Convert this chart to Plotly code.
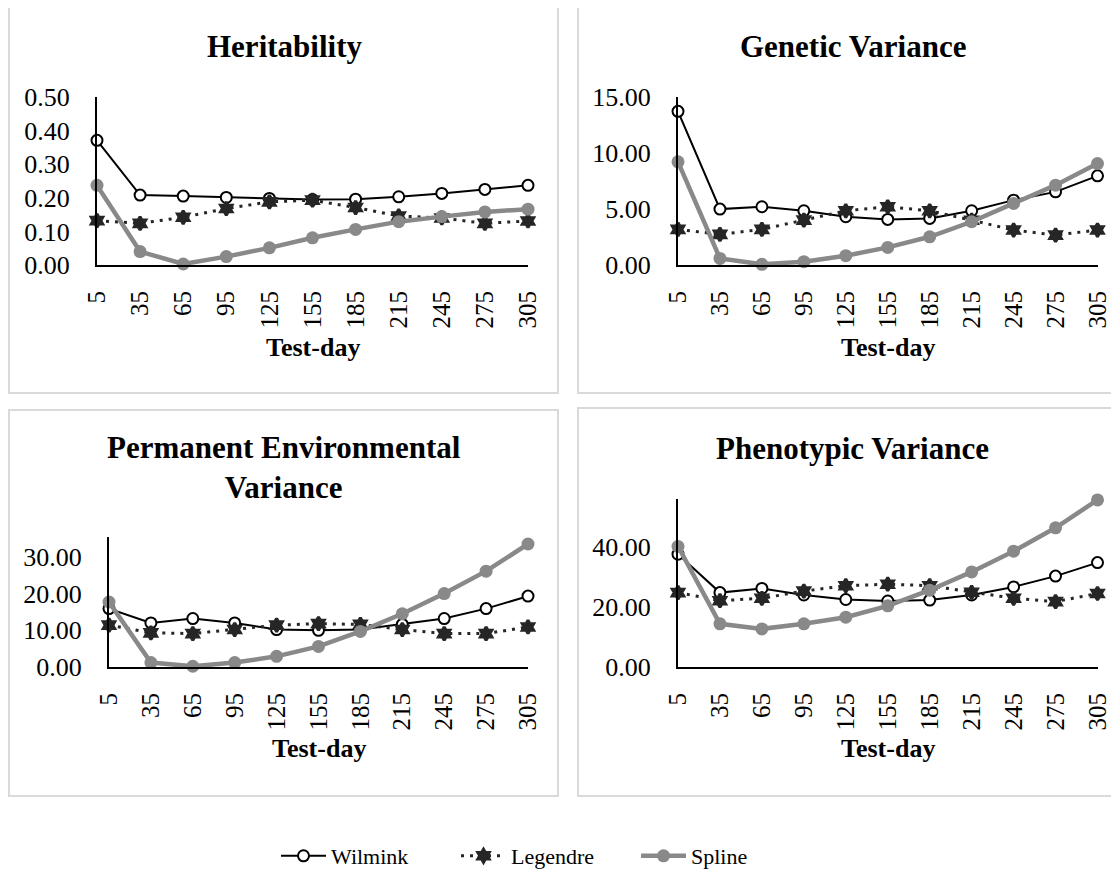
import plotly.graph_objects as go

# ---------------- data ----------------
days = [5, 35, 65, 95, 125, 155, 185, 215, 245, 275, 305]
series_names = ["Wilmink", "Legendre", "Spline"]

h2_wilmink = [0.371, 0.208, 0.205, 0.201, 0.198, 0.195, 0.196, 0.203, 0.213, 0.225, 0.237]
h2_legendre = [0.132, 0.124, 0.142, 0.168, 0.188, 0.193, 0.171, 0.146, 0.140, 0.124, 0.131]
h2_spline = [0.237, 0.040, 0.003, 0.025, 0.051, 0.081, 0.106, 0.129, 0.144, 0.158, 0.166]

gv_wilmink = [13.72, 4.99, 5.20, 4.84, 4.31, 4.07, 4.16, 4.84, 5.79, 6.53, 7.96]
gv_legendre = [3.18, 2.73, 3.18, 4.01, 4.84, 5.20, 4.84, 4.00, 3.12, 2.67, 3.12]
gv_spline = [9.21, 0.59, 0.06, 0.30, 0.83, 1.57, 2.52, 3.86, 5.50, 7.13, 9.06]

pe_wilmink = [15.9, 12.0, 13.2, 12.0, 10.2, 10.0, 10.2, 11.6, 13.2, 15.9, 19.3]
pe_legendre = [11.4, 9.3, 9.1, 10.2, 11.4, 11.8, 11.6, 10.2, 9.1, 9.1, 10.9]
pe_spline = [17.7, 1.2, 0.2, 1.2, 2.9, 5.6, 9.7, 14.5, 20.0, 26.1, 33.5]

pv_wilmink = [37.6, 24.8, 26.2, 24.0, 22.5, 22.0, 22.3, 24.0, 26.7, 30.3, 34.8]
pv_legendre = [24.8, 22.1, 22.9, 25.3, 27.1, 27.6, 27.1, 24.9, 22.9, 21.8, 24.5]
pv_spline = [40.2, 14.4, 12.7, 14.4, 16.6, 20.4, 25.6, 31.7, 38.6, 46.4, 55.7]

panel_titles = ["Heritability", "Genetic Variance",
                "Permanent Environmental<br>Variance", "Phenotypic Variance"]
x_title = "Test-day"

# ---------------- layout helpers ----------------
W, H = 1119, 872
OFF = 8  # page body margin
FONT = "Liberation Serif"


def px(x):
    return (x - OFF) / W


def py(y):
    return 1 - (y - OFF) / H


panels = [
    dict(data=(h2_wilmink, h2_legendre, h2_spline), xd=(97, 528), yd=(97, 265),
         rng=[0, 0.5], dtick=0.1, box=(9, 6, 558, 393), tx=284, ty=47, axy=347),
    dict(data=(gv_wilmink, gv_legendre, gv_spline), xd=(678, 1097.5), yd=(97, 265),
         rng=[0, 15], dtick=5, box=(578, 6, 1135, 393), tx=853, ty=47, axy=347),
    dict(data=(pe_wilmink, pe_legendre, pe_spline), xd=(109, 528), yd=(537, 667),
         rng=[0, 35.4], dtick=10, box=(9, 410, 558, 796), tx=284, ty=468, axy=748),
    dict(data=(pv_wilmink, pv_legendre, pv_spline), xd=(678, 1097.5), yd=(499, 667),
         rng=[0, 56], dtick=20, box=(578, 408, 1135, 796), tx=852, ty=448, axy=748),
]

styles = [
    dict(mode="lines+markers", line=dict(color="black", width=2),
         marker=dict(symbol="circle", size=11, color="white",
                     line=dict(color="black", width=2))),
    dict(mode="lines+markers", line=dict(color="#262626", width=3, dash="3px,6px"),
         marker=dict(symbol="hexagram", size=10, color="#262626",
                     line=dict(color="#262626", width=3))),
    dict(mode="lines+markers", line=dict(color="#898989", width=4.5),
         marker=dict(symbol="circle", size=13, color="#898989")),
]

fig = go.Figure()
layout = dict(
    template="none",
    width=W, height=H, autosize=False,
    margin=dict(l=0, r=0, t=0, b=0, pad=0),
    paper_bgcolor="white", plot_bgcolor="white",
    font=dict(family=FONT, color="black"),
    showlegend=True,
    legend=dict(orientation="h", x=px(276), xanchor="left", y=py(856), yanchor="middle",
                font=dict(family=FONT, size=22, color="black"),
                itemwidth=45, entrywidth=120, bgcolor="rgba(0,0,0,0)"),
    shapes=[], annotations=[],
)

for i, p in enumerate(panels):
    n = i + 1
    xa = "x" if n == 1 else f"x{n}"
    ya = "y" if n == 1 else f"y{n}"
    for k, (vals, st) in enumerate(zip(p["data"], styles)):
        fig.add_trace(go.Scatter(
            x=days, y=vals, name=series_names[k], xaxis=xa, yaxis=ya,
            legendgroup=series_names[k], showlegend=(i == 0), cliponaxis=False,
            **st))
    layout[f"xaxis{'' if n == 1 else n}"] = dict(
        domain=[px(p["xd"][0]), px(p["xd"][1])], anchor=ya, automargin=False,
        range=[5, 305], tickmode="array", tickvals=days, ticktext=[str(d) for d in days],
        tickangle=-90, showgrid=False, zeroline=False, showline=True,
        linecolor="black", linewidth=2, ticks="", ticklabelstandoff=14,
        tickfont=dict(family=FONT, size=25, color="black"))
    layout[f"yaxis{'' if n == 1 else n}"] = dict(
        domain=[py(p["yd"][1]), py(p["yd"][0])], anchor=xa, automargin=False,
        range=p["rng"], tickmode="linear", tick0=0, dtick=p["dtick"], tickformat=".2f",
        showgrid=False, zeroline=False, showline=True, linecolor="black", linewidth=2,
        ticks="", ticklabelstandoff=20,
        tickfont=dict(family=FONT, size=26, color="black"))
    x0, y0, x1, y1 = p["box"]
    layout["shapes"].append(dict(type="rect", xref="paper", yref="paper",
                                 x0=px(x0), x1=px(x1), y0=py(y1), y1=py(y0),
                                 line=dict(color="#d9d9d9", width=2), layer="below"))
    layout["annotations"].append(dict(
        text=f"<b>{panel_titles[i]}</b>", xref="paper", yref="paper",
        x=px(p["tx"]), y=py(p["ty"]), xanchor="center", yanchor="middle",
        showarrow=False, font=dict(family=FONT, size=31, color="black")))
    layout["annotations"].append(dict(
        text=f"<b>{x_title}</b>", xref="paper", yref="paper",
        x=px((p["xd"][0] + p["xd"][1]) / 2), y=py(p["axy"]),
        xanchor="center", yanchor="middle", showarrow=False,
        font=dict(family=FONT, size=26, color="black")))

fig.update_layout(**layout)
fig.write_html("out.html")
